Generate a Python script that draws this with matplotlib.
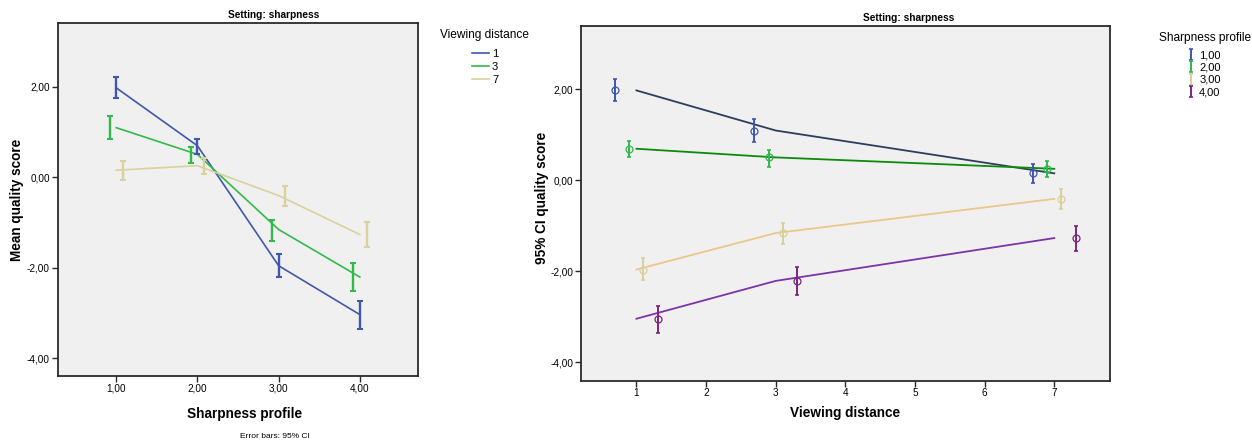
import matplotlib
matplotlib.use('Agg')
import matplotlib.pyplot as plt
import numpy as np

plt.rcParams['font.family'] = ['Liberation Sans', 'DejaVu Sans']

# ---------------- data ----------------
profiles = [1, 2, 3, 4]
profile_labels = ["1,00", "2,00", "3,00", "4,00"]
distances = [1, 3, 7]
distance_labels = ["1", "3", "7"]

# mean quality score per sharpness profile, columns = viewing distance 1, 3, 7
mean_p1 = [1.97, 1.09, 0.15]
mean_p2 = [0.69, 0.50, 0.25]
mean_p3 = [-1.96, -1.16, -0.41]
mean_p4 = [-3.04, -2.21, -1.27]

ci_low_p1 = [1.74, 0.83, -0.07]
ci_high_p1 = [2.21, 1.35, 0.36]
ci_low_p2 = [0.51, 0.30, 0.07]
ci_high_p2 = [0.85, 0.67, 0.42]
ci_low_p3 = [-2.20, -1.41, -0.64]
ci_high_p3 = [-1.71, -0.94, -0.19]
ci_low_p4 = [-3.36, -2.51, -1.55]
ci_high_p4 = [-2.75, -1.91, -1.00]

yticks = [-4, -2, 0, 2]
ytick_labels = ["-4,00", "-2,00", "0,00", "2,00"]
xticks_right = [1, 2, 3, 4, 5, 6, 7]
xtick_labels_right = ["1", "2", "3", "4", "5", "6", "7"]

means = np.array([mean_p1, mean_p2, mean_p3, mean_p4])
lows = np.array([ci_low_p1, ci_low_p2, ci_low_p3, ci_low_p4])
highs = np.array([ci_high_p1, ci_high_p2, ci_high_p3, ci_high_p4])

# ---------------- styles ----------------
W, H = 1252, 443
fig = plt.figure(figsize=(W / 100, H / 100), dpi=100)
bg = '#f0f0f0'
spine_col = '#2a2a2a'

left_cols = ['#4058aa', '#33b84a', '#d9d29d']     # distance 1, 3, 7
left_offsets = [0.0, -0.082, 0.082]

right_line_cols = ['#2c3d5e', '#0b8a0b', '#e9c88a', '#7a35a8']
right_mark_cols = ['#3f55b0', '#2fb84c', '#d8d09a', '#7d237f']
right_offsets = [-0.31, -0.10, 0.10, 0.31]


def style_axes(ax):
    ax.set_facecolor(bg)
    for s in ax.spines.values():
        s.set_color(spine_col)
        s.set_linewidth(1.3)
    ax.tick_params(axis='both', direction='out', length=4, width=1,
                   color=spine_col, labelsize=7.2, pad=1.5,
                   top=False, right=False)
    ax.set_yticks(yticks)
    ax.set_yticklabels(ytick_labels)


# ---------------- left chart ----------------
axL = fig.add_axes([57.5 / W, 1 - 375.7 / H, (418.3 - 57.5) / W, (375.7 - 22.7) / H])
style_axes(axL)
axL.set_xlim(0.276, 4.72)
axL.set_ylim(-4.39, 3.41)
axL.set_xticks(profiles)
axL.set_xticklabels(profile_labels)

left_handles = []
x_prof = np.array(profiles, dtype=float)
for j, d in enumerate(distances):
    col = left_cols[j]
    ln, = axL.plot(x_prof, means[:, j], color=col, lw=1.2, zorder=3)
    left_handles.append(ln)
    m = means[:, j]
    axL.errorbar(x_prof + left_offsets[j], m,
                 yerr=[m - lows[:, j], highs[:, j] - m],
                 fmt='none', ecolor=col, elinewidth=1.7, capsize=2.4,
                 capthick=1.5, zorder=4)

fig.text(440 / W, 1 - 35 / H, 'Viewing distance', ha='left', va='center',
         fontsize=8.6)
fig.legend(left_handles, distance_labels,
           loc='upper left', bbox_to_anchor=(472 / W, 1 - 49 / H),
           frameon=False, fontsize=8,
           handlelength=1.5, handletextpad=0.3, labelspacing=0.25,
           borderpad=0, borderaxespad=0)

fig.text(274 / W, 1 - 15 / H, 'Setting: sharpness', ha='center', va='center',
         fontsize=7.3, fontweight='bold')
fig.text(245 / W, 1 - 414 / H, 'Sharpness profile', ha='center', va='center',
         fontsize=9.8, fontweight='bold')
fig.text(275 / W, 1 - 436 / H, 'Error bars: 95% CI', ha='center', va='center',
         fontsize=6)
fig.text(17.3 / W, 1 - 200 / H, 'Mean quality score', ha='center', va='center',
         rotation=90, fontsize=9.8, fontweight='bold')

# ---------------- right chart ----------------
axR = fig.add_axes([580.7 / W, 1 - 380.7 / H, (1110 - 580.7) / W, (380.7 - 25.7) / H])
style_axes(axR)
axR.set_xlim(0.2, 7.8)
axR.set_ylim(-4.40, 3.39)
axR.set_xticks(xticks_right)
axR.set_xticklabels(xtick_labels_right)

x_dist = np.array(distances, dtype=float)
right_handles = []
for i, p in enumerate(profiles):
    m = means[i]
    axR.plot(x_dist, m, color=right_line_cols[i], lw=1.3, zorder=3)
    eb = axR.errorbar(x_dist + right_offsets[i], m,
                      yerr=[m - lows[i], highs[i] - m],
                      fmt='none', ecolor=right_mark_cols[i], elinewidth=1.4,
                      capsize=1.6, capthick=1.2, zorder=4)
    axR.plot(x_dist + right_offsets[i], m, linestyle='none', marker='o',
             markersize=5, markerfacecolor='none',
             markeredgecolor=right_mark_cols[i], markeredgewidth=0.9, zorder=5)
    right_handles.append(eb)

fig.text(1159 / W, 1 - 38.3 / H, 'Sharpness profile', ha='left', va='center',
         fontsize=8.6)
fig.legend(right_handles, profile_labels,
           loc='upper left', bbox_to_anchor=(1188 / W, 1 - 50 / H),
           frameon=False, fontsize=8,
           handlelength=0.6, handleheight=0.5, handletextpad=0.4,
           labelspacing=0.22, borderpad=0, borderaxespad=0)

fig.text(909 / W, 1 - 18 / H, 'Setting: sharpness', ha='center', va='center',
         fontsize=7.3, fontweight='bold')
fig.text(845 / W, 1 - 413 / H, 'Viewing distance', ha='center', va='center',
         fontsize=9.8, fontweight='bold')
fig.text(541.7 / W, 1 - 198 / H, '95% CI quality score', ha='center', va='center',
         rotation=90, fontsize=9.8, fontweight='bold')

fig.savefig('out.png', dpi=100)
